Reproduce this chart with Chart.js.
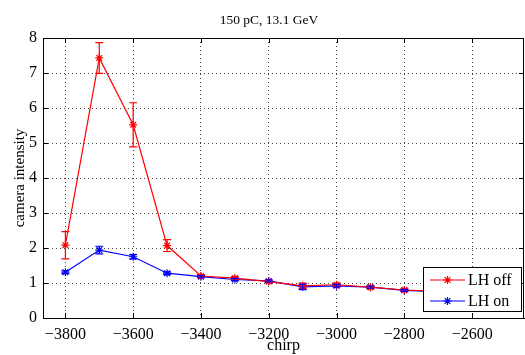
<!DOCTYPE html>
<html>
<head>
<meta charset="utf-8">
<script src="https://cdn.jsdelivr.net/npm/chart.js@4/dist/chart.umd.min.js"></script>
<style>
html,body{margin:0;padding:0;background:#fff;}
#wrap{width:525px;height:355px;position:relative;}
</style>
</head>
<body>
<div id="wrap"><canvas id="c" width="525" height="355"></canvas></div>
<script>
const chartTitle = '150 pC, 13.1 GeV';
const xLabel = 'chirp';
const yLabel = 'camera intensity';
const seriesNames = ['LH off', 'LH on'];
const chirp = [-3800, -3700, -3600, -3500, -3400, -3300, -3200, -3100, -3000, -2900, -2800, -2700];
const lhOff = [2.08, 7.43, 5.52, 2.07, 1.20, 1.14, 1.04, 0.92, 0.95, 0.88, 0.80, 0.76];
const lhOffErr = [0.39, 0.44, 0.63, 0.17, 0.04, 0.04, 0.03, 0.08, 0.05, 0.04, 0.03, 0.03];
const lhOn = [1.31, 1.94, 1.75, 1.28, 1.18, 1.10, 1.06, 0.89, 0.92, 0.88, 0.79, 0.75];
const lhOnErr = [0.04, 0.11, 0.06, 0.04, 0.03, 0.03, 0.03, 0.08, 0.04, 0.03, 0.03, 0.03];
const xTicks = [-3800, -3600, -3400, -3200, -3000, -2800, -2600];
const yTicks = [0, 1, 2, 3, 4, 5, 6, 7, 8];

const FONT = "'Liberation Serif', 'Times New Roman', serif";
const errs = [lhOffErr, lhOnErr];

function pts(vals) { return chirp.map((x, i) => ({x: x, y: vals[i]})); }

const errorBars = {
  id: 'errorBars',
  afterDatasetsDraw(chart) {
    const ctx = chart.ctx, xs = chart.scales.x, ys = chart.scales.y, a = chart.chartArea;
    ctx.save();
    ctx.beginPath(); ctx.rect(a.left, a.top, a.right - a.left, a.bottom - a.top); ctx.clip();
    chart.data.datasets.forEach((ds, di) => {
      ctx.strokeStyle = ds.borderColor; ctx.lineWidth = 1.2;
      ds.data.forEach((p, i) => {
        const e = errs[di][i];
        const x = xs.getPixelForValue(p.x);
        const y1 = ys.getPixelForValue(p.y + e), y2 = ys.getPixelForValue(p.y - e);
        ctx.beginPath();
        ctx.moveTo(x, y1); ctx.lineTo(x, y2);
        ctx.moveTo(x - 4, y1); ctx.lineTo(x + 4, y1);
        ctx.moveTo(x - 4, y2); ctx.lineTo(x + 4, y2);
        ctx.stroke();
      });
    });
    ctx.restore();
  },
  afterDraw(chart) {
    const ctx = chart.ctx, xs = chart.scales.x, ys = chart.scales.y, a = chart.chartArea;
    ctx.save();
    ctx.strokeStyle = '#000'; ctx.lineWidth = 1;
    ctx.beginPath();
    ctx.moveTo(a.left, Math.round(a.top) + 0.5); ctx.lineTo(a.right, Math.round(a.top) + 0.5);
    ctx.moveTo(Math.round(a.right) - 0.5, a.top); ctx.lineTo(Math.round(a.right) - 0.5, a.bottom);
    ctx.stroke();
    ctx.beginPath();
    xTicks.forEach(v => {
      const x = Math.round(xs.getPixelForValue(v)) + 0.5;
      ctx.moveTo(x, a.bottom); ctx.lineTo(x, a.bottom - 5);
      ctx.moveTo(x, a.top); ctx.lineTo(x, a.top + 5);
    });
    yTicks.forEach(v => {
      const y = Math.round(ys.getPixelForValue(v)) + 0.5;
      ctx.moveTo(a.left, y); ctx.lineTo(a.left + 5, y);
      ctx.moveTo(a.right, y); ctx.lineTo(a.right - 5, y);
    });
    ctx.stroke();
    ctx.fillStyle = '#000';
    ctx.font = '13.5px ' + FONT;
    ctx.textAlign = 'center'; ctx.textBaseline = 'middle';
    ctx.fillText(chartTitle, 269, 20);
    const lx = 423.5, ly = 267.5, lw = 98, lh = 44;
    ctx.fillStyle = '#fff';
    ctx.fillRect(lx, ly, lw, lh);
    ctx.strokeStyle = '#000'; ctx.lineWidth = 1;
    ctx.strokeRect(lx, ly, lw, lh);
    chart.data.datasets.forEach((ds, di) => {
      const yy = 280 + di * 21;
      ctx.strokeStyle = ds.borderColor; ctx.lineWidth = 1.2;
      ctx.beginPath(); ctx.moveTo(430, yy); ctx.lineTo(465, yy); ctx.stroke();
      const r = 4;
      ctx.beginPath();
      for (let k = 0; k < 4; k++) {
        const ang = k * Math.PI / 4;
        ctx.moveTo(447.5 + r * Math.cos(ang), yy + r * Math.sin(ang));
        ctx.lineTo(447.5 - r * Math.cos(ang), yy - r * Math.sin(ang));
      }
      ctx.stroke();
      ctx.fillStyle = '#000';
      ctx.font = '16px ' + FONT;
      ctx.textAlign = 'left'; ctx.textBaseline = 'middle';
      ctx.fillText(seriesNames[di], 468, yy + 1);
    });
    ctx.restore();
  }
};

new Chart(document.getElementById('c'), {
  type: 'line',
  data: {
    datasets: [
      { label: seriesNames[0], data: pts(lhOff), borderColor: '#ff0000', backgroundColor: '#ff0000',
        borderWidth: 1.2, pointStyle: 'star', pointRadius: 4, pointBorderWidth: 1.2, pointBorderColor: '#ff0000', tension: 0, fill: false },
      { label: seriesNames[1], data: pts(lhOn), borderColor: '#0000ff', backgroundColor: '#0000ff',
        borderWidth: 1.2, pointStyle: 'star', pointRadius: 4, pointBorderWidth: 1.2, pointBorderColor: '#0000ff', tension: 0, fill: false }
    ]
  },
  options: {
    responsive: false,
    animation: false,
    events: [],
    layout: { autoPadding: false, padding: { top: 38, right: 1, left: 0, bottom: 0 } },
    plugins: { legend: { display: false }, title: { display: false }, tooltip: { enabled: false } },
    scales: {
      x: {
        type: 'linear', min: -3866, max: -2447,
        afterFit: s => { s.height = 37; s.paddingLeft = 0; s.paddingRight = 0; },
        afterBuildTicks: s => { s.ticks = xTicks.map(v => ({value: v})); },
        ticks: { autoSkip: false, maxRotation: 0, padding: 7, color: '#000', font: { family: FONT, size: 16 },
                 callback: v => (v < 0 ? '\u2212' + Math.abs(v) : '' + v) },
        grid: { color: '#444', drawTicks: false, lineWidth: 1 },
        border: { display: true, color: '#000', dash: [1, 3] },
        title: { display: true, text: xLabel, color: '#000', font: { family: FONT, size: 16 }, padding: { top: 0, bottom: 0 } }
      },
      y: {
        min: 0, max: 8,
        afterFit: s => { s.width = 43; s.paddingTop = 0; s.paddingBottom = 0; },
        afterBuildTicks: s => { s.ticks = yTicks.map(v => ({value: v})); },
        ticks: { padding: 6, color: '#000', font: { family: FONT, size: 16 } },
        grid: { color: '#444', drawTicks: false, lineWidth: 1 },
        border: { display: true, color: '#000', dash: [1, 3] },
        title: { display: true, text: yLabel, color: '#000', font: { family: FONT, size: 15 }, padding: { top: 11, bottom: 0 } }
      }
    }
  },
  plugins: [errorBars]
});
</script>
</body>
</html>
